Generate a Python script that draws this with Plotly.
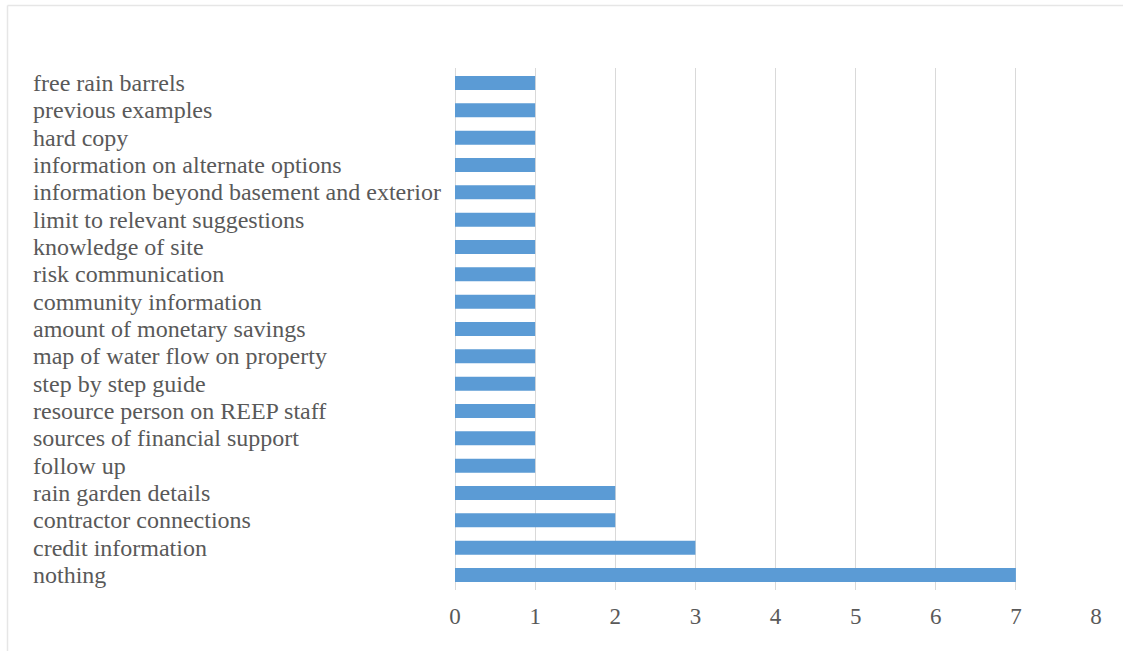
import plotly.graph_objects as go

# Requested information items and how many respondents mentioned each
categories = [
    "free rain barrels",
    "previous examples",
    "hard copy",
    "information on alternate options",
    "information beyond basement and exterior",
    "limit to relevant suggestions",
    "knowledge of site",
    "risk communication",
    "community information",
    "amount of monetary savings",
    "map of water flow on property",
    "step by step guide",
    "resource person on REEP staff",
    "sources of financial support",
    "follow up",
    "rain garden details",
    "contractor connections",
    "credit information",
    "nothing",
]
counts = [1, 1, 1, 1, 1, 1, 1, 1, 1, 1, 1, 1, 1, 1, 1, 2, 2, 3, 7]
x_ticks = [0, 1, 2, 3, 4, 5, 6, 7, 8]

W, H = 1123, 651
ML, MR, MT, MB = 455, 27, 68, 61
plot_w = W - ML - MR
plot_h = H - MT - MB
SERIF = "Liberation Serif"

fig = go.Figure(
    go.Bar(
        x=counts,
        y=categories,
        orientation="h",
        marker=dict(color="#5b9bd5", line=dict(width=0)),
        hoverinfo="x+y",
    )
)

# Category labels, left-aligned at the chart's left edge
label_x = (31 - ML) / plot_w
for c in categories:
    fig.add_annotation(
        x=label_x, xref="paper", y=c, yref="y",
        text=c, showarrow=False, xanchor="left", yanchor="middle",
        font=dict(family=SERIF, size=24, color="#595959"),
    )

# Light frame along the top and left edges
frame = dict(color="#e6e6e6", width=1.5)
top_y = 1 + (MT - 5.5) / plot_h
left_x = (7.5 - ML) / plot_w
fig.add_shape(type="line", xref="paper", yref="paper",
              x0=left_x, x1=(W - ML) / plot_w + 0.01, y0=top_y, y1=top_y, line=frame)
fig.add_shape(type="line", xref="paper", yref="paper",
              x0=left_x, x1=left_x, y0=top_y, y1=-MB / plot_h - 0.01, line=frame)

fig.update_layout(
    width=W, height=H,
    margin=dict(l=ML, r=MR, t=MT, b=MB),
    paper_bgcolor="white", plot_bgcolor="white",
    bargap=0.49,
    showlegend=False,
    xaxis=dict(
        range=[0, 8], tickvals=x_ticks,
        showgrid=True, gridcolor="#d9d9d9", gridwidth=1.3,
        zeroline=True, zerolinecolor="#d9d9d9", zerolinewidth=1.3,
        showline=False, ticks="",
        tickfont=dict(family=SERIF, size=23, color="#595959"),
        ticklabelstandoff=10,
        fixedrange=True,
    ),
    yaxis=dict(
        categoryorder="array", categoryarray=categories[::-1],
        showticklabels=False, showgrid=False, zeroline=False, ticks="",
        fixedrange=True,
    ),
)

fig.write_html("out.html")
